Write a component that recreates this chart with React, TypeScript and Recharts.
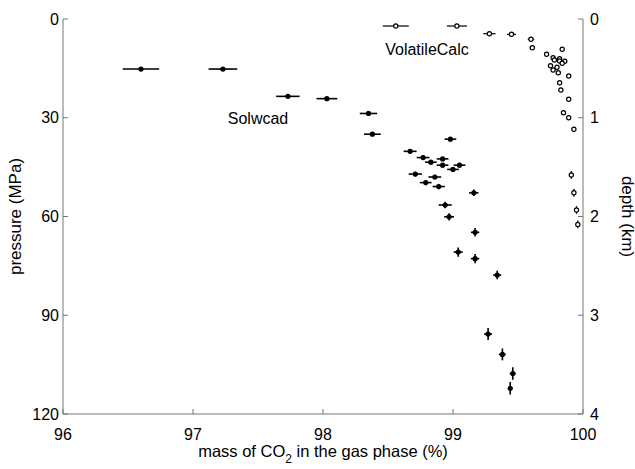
import React from "react";
import { ScatterChart, Scatter, XAxis, YAxis, ErrorBar, ReferenceDot } from "recharts";

const co2Ticks = [96, 97, 98, 99, 100];
const pressureTicks = [0, 30, 60, 90, 120];
const depthTicks = [0, 1, 2, 3, 4];

// Solwcad: CO2 in gas (%), pressure (MPa) and their error half-widths
const solwcadCO2 = [
  96.6, 97.23, 97.73, 98.03, 98.35, 98.38, 98.67, 98.77, 98.92, 98.98, 98.83, 98.92, 99.05, 99.0, 98.71,
  98.86, 98.79, 98.89, 99.16, 98.94, 98.97, 99.17, 99.04, 99.17, 99.34, 99.27, 99.38, 99.46, 99.44,
];
const solwcadP = [
  15.2, 15.2, 23.5, 24.2, 28.7, 35.0, 40.2, 42.1, 42.5, 36.5, 43.5, 44.4, 44.4, 45.7, 47.1, 48.0, 49.7,
  50.9, 52.8, 56.5, 60.1, 64.8, 70.8, 72.8, 77.8, 95.7, 101.9, 107.7, 112.2,
];
const solwcadCO2Err = [
  0.14, 0.11, 0.09, 0.08, 0.067, 0.064, 0.05, 0.049, 0.045, 0.045, 0.045, 0.045, 0.045, 0.045, 0.051,
  0.049, 0.045, 0.047, 0.036, 0.05, 0.038, 0.032, 0.035, 0.032, 0.031, 0.031, 0.027, 0.023, 0.017,
];
const solwcadPErr = [
  0.3, 0.3, 0.3, 0.3, 0.4, 0.4, 0.6, 0.6, 0.6, 0.6, 0.6, 0.7, 0.7, 0.7, 0.7, 0.7, 0.8, 0.8, 1.0, 1.0,
  1.1, 1.3, 1.4, 1.4, 1.3, 1.8, 1.8, 1.9, 1.9,
];

// VolatileCalc
const volatileCO2 = [
  98.56, 99.03, 99.28, 99.45, 99.6, 99.61, 99.72, 99.84, 99.77, 99.78, 99.82, 99.82, 99.86, 99.84, 99.75,
  99.8, 99.77, 99.81, 99.89, 99.82, 99.83, 99.89, 99.85, 99.89, 99.93, 99.91, 99.93, 99.95, 99.96,
];
const volatileP = [
  2.13, 2.13, 4.47, 4.65, 6.17, 8.72, 10.72, 9.2, 11.76, 12.45, 12.06, 12.76, 12.85, 13.46, 14.19, 14.67,
  15.49, 16.31, 17.31, 19.35, 21.57, 24.39, 28.46, 29.98, 33.5, 47.4, 52.8, 58.0, 62.4,
];
const volatileCO2Err = [
  0.1, 0.077, 0.047, 0.035, 0.025, 0.02, 0.008, 0.008, 0.008, 0.008, 0.008, 0.008, 0.008, 0.008, 0.008,
  0.008, 0.008, 0.008, 0.008, 0.008, 0.008, 0.008, 0.008, 0.008, 0.008, 0.01, 0.01, 0.01, 0.01,
];
const volatilePErr = [
  0.2, 0.2, 0.2, 0.2, 0.3, 0.3, 0.3, 0.3, 0.3, 0.3, 0.3, 0.3, 0.3, 0.3, 0.3, 0.3, 0.3, 0.3, 0.3, 0.3,
  0.3, 0.3, 0.3, 0.3, 0.3, 1.2, 1.2, 1.2, 1.2,
];

const seriesNames = ["Solwcad", "VolatileCalc"];
const nameCO2 = [97.5, 98.8];
const nameP = [30.2, 9.2];

const toRows = (x: number[], y: number[], ex: number[], ey: number[]) =>
  x.map((v, i) => ({ co2: v, p: y[i], co2Err: ex[i], pErr: ey[i] }));

const solwcad = toRows(solwcadCO2, solwcadP, solwcadCO2Err, solwcadPErr);
const volatile = toRows(volatileCO2, volatileP, volatileCO2Err, volatilePErr);
// invisible rows so the top and right (depth) axes get drawn
const depthFrame = depthTicks.map((d, i) => ({ co2: co2Ticks[i], depth: d }));

const FONT = '"Liberation Sans", Arial, Helvetica, sans-serif';
const AXIS = "#777";

const FilledDot = (props: any) => <circle cx={props.cx} cy={props.cy} r={2.6} fill="#000" />;
const OpenDot = (props: any) => (
  <circle cx={props.cx} cy={props.cy} r={2.1} fill="#fff" stroke="#000" strokeWidth={1.2} />
);
const NoDot = () => <g />;

const PressureTitle = (props: any) => {
  const { x, y, height } = props.viewBox;
  const cx = x + 15;
  const cy = y + height / 2;
  return (
    <text x={cx} y={cy} transform={`rotate(-90 ${cx} ${cy})`} textAnchor="middle" dominantBaseline="central" fontSize={17} fill="#000">
      pressure (MPa)
    </text>
  );
};

const DepthTitle = (props: any) => {
  const { x, y, height } = props.viewBox;
  const cx = x + 44;
  const cy = y + height / 2;
  return (
    <text x={cx} y={cy} transform={`rotate(90 ${cx} ${cy})`} textAnchor="middle" dominantBaseline="central" fontSize={17} fill="#000">
      depth (km)
    </text>
  );
};

const CO2Title = (props: any) => {
  const { x, y, width } = props.viewBox;
  return (
    <text x={x + width / 2} y={y + 43} textAnchor="middle" fontSize={16.5} fill="#000">
      mass of CO
      <tspan fontSize={12} dy={6}>2</tspan>
      <tspan dy={-6}> in the gas phase (%)</tspan>
    </text>
  );
};

export default function App() {
  const tickStyle = { fontSize: 16, fill: "#000", fontFamily: FONT };
  return (
    <div style={{ width: 635, height: 469, background: "#fff" }}>
      <style>{`body{margin:0}`}</style>
      <ScatterChart width={635} height={469} margin={{ top: 19, right: 0, bottom: 0, left: 0 }} style={{ fontFamily: FONT }}>
        <XAxis
          xAxisId="co2"
          type="number"
          dataKey="co2"
          domain={[96, 100]}
          ticks={co2Ticks}
          allowDataOverflow
          height={55}
          stroke={AXIS}
          tickSize={-5}
          tickMargin={20}
          tick={tickStyle}
          label={CO2Title}
        />
        <XAxis
          xAxisId="top"
          orientation="top"
          type="number"
          dataKey="co2"
          domain={[96, 100]}
          ticks={co2Ticks}
          allowDataOverflow
          height={0}
          stroke={AXIS}
          tickSize={-5}
          tickFormatter={() => ""}
        />
        <YAxis
          yAxisId="p"
          type="number"
          dataKey="p"
          domain={[0, 120]}
          ticks={pressureTicks}
          reversed
          allowDataOverflow
          width={63}
          stroke={AXIS}
          tickSize={-5}
          tickMargin={9}
          tick={tickStyle}
          label={PressureTitle}
        />
        <YAxis
          yAxisId="d"
          orientation="right"
          type="number"
          dataKey="depth"
          domain={[0, 4]}
          ticks={depthTicks}
          reversed
          allowDataOverflow
          width={52}
          stroke={AXIS}
          tickSize={-5}
          tickMargin={12}
          tick={tickStyle}
          label={DepthTitle}
        />
        <Scatter data={depthFrame} xAxisId="top" yAxisId="d" shape={NoDot} isAnimationActive={false} />
        <Scatter
          name={seriesNames[0]}
          data={solwcad}
          xAxisId="co2"
          yAxisId="p"
          shape={FilledDot}
          isAnimationActive={false}
        >
          <ErrorBar dataKey="co2Err" direction="x" width={0} stroke="#000" strokeWidth={1.6} isAnimationActive={false} />
          <ErrorBar dataKey="pErr" direction="y" width={0} stroke="#000" strokeWidth={1.6} isAnimationActive={false} />
        </Scatter>
        <Scatter
          name={seriesNames[1]}
          data={volatile}
          xAxisId="co2"
          yAxisId="p"
          shape={OpenDot}
          isAnimationActive={false}
        >
          <ErrorBar dataKey="co2Err" direction="x" width={0} stroke="#000" strokeWidth={1.2} isAnimationActive={false} />
          <ErrorBar dataKey="pErr" direction="y" width={0} stroke="#000" strokeWidth={1.2} isAnimationActive={false} />
        </Scatter>
        {seriesNames.map((name, i) => (
          <ReferenceDot
            key={name}
            xAxisId="co2"
            yAxisId="p"
            x={nameCO2[i]}
            y={nameP[i]}
            r={0}
            fill="none"
            stroke="none"
            label={{ value: name, position: "center", fontSize: 16, fill: "#000", fontFamily: FONT }}
          />
        ))}
      </ScatterChart>
    </div>
  );
}
